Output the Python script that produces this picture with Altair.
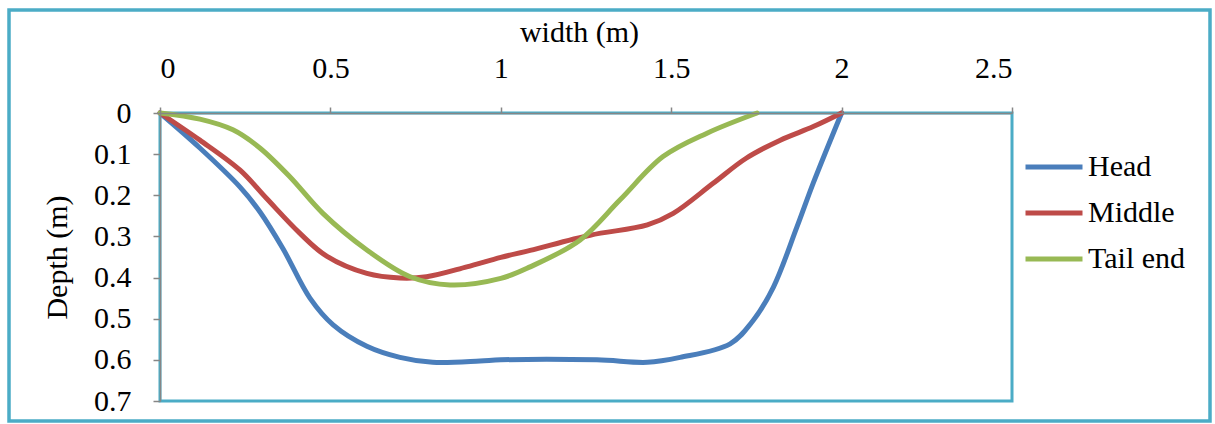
import altair as alt
import pandas as pd

series_names = ["Head", "Middle", "Tail end"]
series_colors = ["#4A7EBB", "#BE4B48", "#98B954"]

head_x = [0, 0.117, 0.235, 0.293, 0.361, 0.44, 0.508, 0.607, 0.704, 0.80, 0.939, 1.0,
          1.282, 1.43, 1.526, 1.673, 1.74, 1.80, 1.869, 1.917, 2.0]
head_y = [0, 0.085, 0.18, 0.24, 0.33, 0.45, 0.515, 0.567, 0.594, 0.606, 0.603, 0.60,
          0.60, 0.606, 0.594, 0.561, 0.505, 0.423, 0.277, 0.17, 0]

middle_x = [0, 0.117, 0.235, 0.313, 0.41, 0.489, 0.607, 0.704, 0.782, 0.90, 1.0, 1.086,
            1.262, 1.43, 1.506, 1.623, 1.72, 1.82, 1.917, 2.0]
middle_y = [0, 0.066, 0.139, 0.208, 0.292, 0.348, 0.39, 0.401, 0.398, 0.374, 0.351, 0.334,
            0.297, 0.272, 0.244, 0.171, 0.11, 0.066, 0.033, 0]

tail_x = [0, 0.117, 0.214, 0.293, 0.381, 0.478, 0.607, 0.734, 0.851, 1.0, 1.086, 1.232,
          1.35, 1.476, 1.605, 1.752]
tail_y = [0, 0.015, 0.041, 0.085, 0.155, 0.244, 0.333, 0.398, 0.418, 0.402, 0.374, 0.309,
          0.211, 0.106, 0.049, 0]

x_ticks = [0, 0.5, 1, 1.5, 2, 2.5]
y_ticks = [0, 0.1, 0.2, 0.3, 0.4, 0.5, 0.6, 0.7]

rows = []
for name, xs, ys in zip(series_names, [head_x, middle_x, tail_x], [head_y, middle_y, tail_y]):
    for i, (a, b) in enumerate(zip(xs, ys)):
        rows.append({"series": name, "w": a, "d": b, "order": i})
df = pd.DataFrame(rows)

FONT = "Liberation Serif"
AX = "#868686"
TEAL = "#4BACC6"

lines = alt.Chart(df).mark_line(strokeWidth=5, interpolate="catmull-rom", strokeCap="round").encode(
    x=alt.X("w:Q", scale=alt.Scale(domain=[0, 2.5], nice=False),
            axis=alt.Axis(orient="top", values=x_ticks, format=".1~f", title="width (m)",
                          grid=False, domainColor=AX, domainWidth=1.5, tickColor=AX,
                          tickWidth=1.5, tickSize=6, labelBaseline="alphabetic",
                          labelPadding=30, titleX=419, titleY=-72, titleBaseline="alphabetic",
                          labelFont=FONT, labelFontSize=30, labelColor="black",
                          titleFont=FONT, titleFontSize=30, titleColor="black",
                          titleFontWeight="normal", zindex=1)),
    y=alt.Y("d:Q", scale=alt.Scale(domain=[0, 0.7], reverse=True, nice=False),
            axis=alt.Axis(values=y_ticks, format=".1~f", title="Depth (m)", grid=False,
                          domainColor=AX, domainWidth=1.5, tickColor=AX, tickWidth=1.5,
                          tickSize=7, labelPadding=22, titleX=-103, titleY=144,
                          titleBaseline="middle", titleAngle=-90,
                          labelFont=FONT, labelFontSize=30, labelColor="black",
                          titleFont=FONT, titleFontSize=30, titleColor="black",
                          titleFontWeight="normal", zindex=1)),
    color=alt.Color("series:N", scale=alt.Scale(domain=series_names, range=series_colors),
                    legend=alt.Legend(title=None, orient="none", legendX=863, legendY=23,
                                      symbolType="stroke", symbolSize=3249,
                                      symbolStrokeWidth=5, labelOffset=3, rowPadding=-5.5,
                                      padding=0, labelFont=FONT, labelFontSize=30,
                                      labelColor="black")),
    order="order:Q",
)

frame = alt.Chart(pd.DataFrame({"f": [0]})).mark_rect(
    fillOpacity=0, stroke=TEAL, strokeWidth=3.5
).encode(
    x=alt.value(-151), x2=alt.value(1050), y=alt.value(-103), y2=alt.value(308)
)

chart = alt.layer(frame, lines).properties(
    width=852, height=288,
    padding={"left": 160, "top": 113, "right": 203, "bottom": 23},
    autosize=alt.AutoSizeParams(type="none"),
    background="white",
).configure(
    font=FONT
).configure_view(
    stroke=TEAL, strokeWidth=3
)

chart.save("out.html", embed_options={"renderer": "svg", "actions": False})
